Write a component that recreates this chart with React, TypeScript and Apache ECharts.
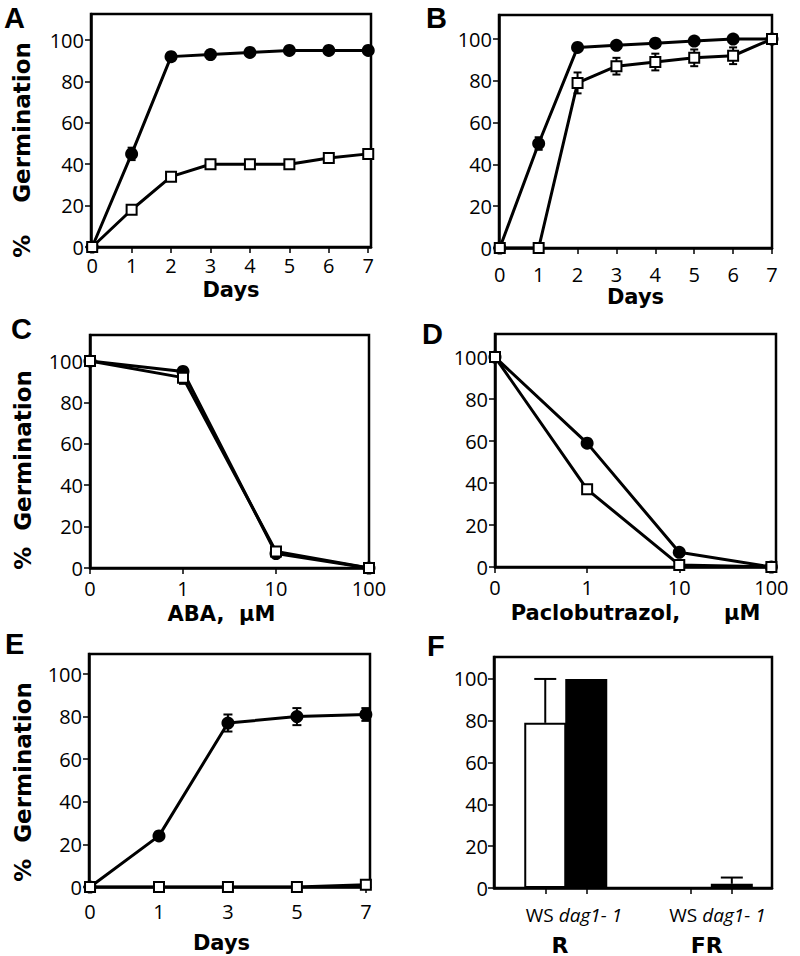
import React, { useEffect, useRef } from "react";
import * as echarts from "echarts";

// ---------- data ----------
const daysAB = [0, 1, 2, 3, 4, 5, 6, 7];
const aFilled = [0, 45, 92, 93, 94, 95, 95, 95];
const aFilledErr = [0, 3, 1, 2, 0, 0, 0, 0];
const aOpen = [0, 18, 34, 40, 40, 40, 43, 45];
const bFilled = [0, 50, 96, 97, 98, 99, 100, 100];
const bFilledErr = [0, 3, 0, 0, 0, 0, 0, 0];
const bOpen = [0, 0, 79, 87, 89, 91, 92, 100];
const bOpenErr = [0, 0, 5, 4, 4, 4, 4, 0];
const doseLabels = ["0", "1", "10", "100"];
const cFilled = [100, 95, 7, 0];
const cOpen = [100, 92, 8, 0];
const cOpenErr = [0, 3, 2, 0];
const dFilled = [100, 59, 7, 0];
const dOpen = [100, 37, 1, 0];
const eDays = ["0", "1", "3", "5", "7"];
const eFilled = [0, 24, 77, 80, 81];
const eFilledErr = [0, 1, 4, 4, 3];
const eOpen = [0, 0, 0, 0, 1];
const fGenotypes = ["WS", "dag1- 1", "WS", "dag1- 1"];
const fLight = ["R", "FR"];
const fValues = [79, 100, 0, 2];
const fErrUp = [21, 0, 0, 3];
const yTicks = [0, 20, 40, 60, 80, 100];

// ---------- layout ----------
const REG = "'Open Sans', sans-serif";
const BOLD = "'DejaVu Sans', sans-serif";
const grids = [
  { left: 91, top: 14, width: 280, height: 233 },
  { left: 499, top: 15, width: 273, height: 233 },
  { left: 90, top: 335, width: 279, height: 233 },
  { left: 495, top: 334, width: 281, height: 233 },
  { left: 89, top: 654, width: 281, height: 233 },
  { left: 494, top: 657, width: 278, height: 231 },
];
const yMaxes = [112.6, 111.5, 112.6, 111, 109.4, 110.5];
const yLabelMargins = [7, 7, 7, 7, 7, 6];
const fBarPos = [1.25, 2.25, 4.8, 5.8];
const fGenoLabelPos = [1.95, 5.45];
const fLightPos = [1.61, 5.19];

function buildOption(): any {
  const grid = grids.map((g) => ({
    ...g,
    show: true,
    borderColor: "#000",
    borderWidth: 2.5,
    backgroundColor: "transparent",
  }));

  const axisLineStyle = { show: true, onZero: false, lineStyle: { color: "#000", width: 2.5 } };
  const tickStyle = { show: true, inside: false, length: 6, lineStyle: { color: "#000", width: 1.5 } };

  const yAxis = grids.map((_, i) => ({
    type: "value",
    gridIndex: i,
    min: 0,
    max: yMaxes[i],
    splitLine: { show: false },
    axisLine: axisLineStyle,
    axisTick: { ...tickStyle, customValues: yTicks },
    axisLabel: {
      customValues: yTicks,
      margin: yLabelMargins[i],
      fontFamily: REG,
      fontSize: 20,
      color: "#000",
    },
  }));

  const nameStyle = { fontFamily: BOLD, fontWeight: "bold", fontSize: 21, color: "#000", lineHeight: 22 };
  const labelBase = { fontFamily: REG, fontSize: 20, color: "#000", lineHeight: 20 };

  const xAxis: any[] = [
    {
      type: "value", gridIndex: 0, min: -0.03, max: 7.07,
      splitLine: { show: false }, axisLine: axisLineStyle,
      axisTick: { ...tickStyle, customValues: daysAB },
      axisLabel: { ...labelBase, customValues: daysAB, margin: 8 },
      name: "Days", nameLocation: "middle", nameGap: 32, nameTextStyle: nameStyle,
    },
    {
      type: "value", gridIndex: 1, min: -0.02, max: 7.0,
      splitLine: { show: false }, axisLine: axisLineStyle,
      axisTick: { ...tickStyle, customValues: daysAB },
      axisLabel: { ...labelBase, customValues: daysAB, margin: 16 },
      name: "Days", nameLocation: "middle", nameGap: 38, nameTextStyle: nameStyle,
    },
    {
      type: "value", gridIndex: 2, min: 0, max: 3,
      splitLine: { show: false }, axisLine: axisLineStyle,
      axisTick: { ...tickStyle, customValues: [0, 1, 2, 3] },
      axisLabel: { ...labelBase, customValues: [0, 1, 2, 3], margin: 10, formatter: (v: number) => doseLabels[Math.round(v)] },
      name: "ABA,  µM", nameLocation: "middle", nameGap: 35, nameTextStyle: { ...nameStyle, padding: [0, 16, 0, 0] },
    },
    {
      type: "value", gridIndex: 3, min: 0, max: 3.05,
      splitLine: { show: false }, axisLine: axisLineStyle,
      axisTick: { ...tickStyle, customValues: [0, 1, 2, 3] },
      axisLabel: { ...labelBase, customValues: [0, 1, 2, 3], margin: 10, formatter: (v: number) => doseLabels[Math.round(v)] },
      name: "Paclobutrazol,      µM", nameLocation: "middle", nameGap: 35, nameTextStyle: nameStyle,
    },
    {
      type: "value", gridIndex: 4, min: -0.015, max: 4.06,
      splitLine: { show: false }, axisLine: axisLineStyle,
      axisTick: { ...tickStyle, customValues: [0, 1, 2, 3, 4] },
      axisLabel: { ...labelBase, customValues: [0, 1, 2, 3, 4], margin: 14, formatter: (v: number) => eDays[Math.round(v)] },
      name: "Days", nameLocation: "middle", nameGap: 45, nameTextStyle: { ...nameStyle, padding: [0, 16, 0, 0] },
    },
    {
      type: "value", gridIndex: 5, min: 0, max: 6.78,
      splitLine: { show: false }, axisLine: axisLineStyle,
      axisTick: { ...tickStyle, customValues: fBarPos },
      axisLabel: {
        customValues: fGenoLabelPos,
        margin: 17,
        fontFamily: REG,
        fontSize: 19,
        color: "#000",
        formatter: (v: number) => {
          const k = fGenoLabelPos.indexOf(v);
          return `{n|${fGenotypes[k * 2]}} {i|${fGenotypes[k * 2 + 1]}}`;
        },
        rich: {
          n: { fontFamily: REG, fontSize: 19, color: "#000" },
          i: { fontFamily: REG, fontSize: 19, fontStyle: "italic", color: "#000" },
        },
      },
    },
    {
      type: "value", gridIndex: 5, min: 0, max: 6.78, position: "bottom",
      splitLine: { show: false }, axisLine: { show: false }, axisTick: { show: false },
      axisLabel: {
        customValues: fLightPos,
        margin: 46,
        formatter: (v: number) => fLight[fLightPos.indexOf(v)],
        fontFamily: BOLD, fontWeight: "bold", fontSize: 22, color: "#000",
      },
    },
  ];

  const filledLine = (gi: number, data: number[][]) => ({
    type: "line", xAxisIndex: gi, yAxisIndex: gi, data,
    symbol: "circle", symbolSize: 13, z: 3,
    itemStyle: { color: "#000" },
    lineStyle: { color: "#000", width: 3 },
  });
  const openLine = (gi: number, data: number[][]) => ({
    type: "line", xAxisIndex: gi, yAxisIndex: gi, data,
    symbol: "rect", symbolSize: 10, z: 4,
    itemStyle: { color: "#fff", borderColor: "#000", borderWidth: 2 },
    lineStyle: { color: "#000", width: 3 },
  });
  const errSeries = (gi: number, data: number[][], cap: number, both: boolean, width = 2) => ({
    type: "custom", xAxisIndex: gi, yAxisIndex: gi, data, z: 2,
    renderItem: (params: any, api: any) => {
      const x = api.value(0), lo = api.value(1), hi = api.value(2);
      const p1 = api.coord([x, lo]);
      const p2 = api.coord([x, hi]);
      const h = cap / 2;
      const st = { stroke: "#000", lineWidth: width };
      const children: any[] = [
        { type: "line", shape: { x1: p1[0], y1: p1[1], x2: p2[0], y2: p2[1] }, style: st },
        { type: "line", shape: { x1: p2[0] - h, y1: p2[1], x2: p2[0] + h, y2: p2[1] }, style: st },
      ];
      if (both) children.push({ type: "line", shape: { x1: p1[0] - h, y1: p1[1], x2: p1[0] + h, y2: p1[1] }, style: st });
      return { type: "group", children };
    },
  });
  const errData = (xs: number[], ys: number[], es: number[]) =>
    xs.map((x, i) => [x, ys[i] - es[i], ys[i] + es[i]]).filter((_, i) => es[i] > 0);
  const pairs = (xs: number[], ys: number[]) => xs.map((x, i) => [x, ys[i]]);
  const idx = (n: number) => Array.from({ length: n }, (_, i) => i);

  const series: any[] = [
    // A
    errSeries(0, errData(daysAB, aFilled, aFilledErr), 8, true),
    filledLine(0, pairs(daysAB, aFilled)),
    openLine(0, pairs(daysAB, aOpen)),
    // B
    errSeries(1, errData(daysAB, bFilled, bFilledErr), 8, true),
    errSeries(1, errData(daysAB, bOpen, bOpenErr), 8, true),
    filledLine(1, pairs(daysAB, bFilled)),
    openLine(1, pairs(daysAB, bOpen)),
    // C
    errSeries(2, errData(idx(4), cOpen, cOpenErr), 8, true),
    filledLine(2, pairs(idx(4), cFilled)),
    openLine(2, pairs(idx(4), cOpen)),
    // D
    filledLine(3, pairs(idx(4), dFilled)),
    openLine(3, pairs(idx(4), dOpen)),
    // E
    errSeries(4, errData(idx(5), eFilled, eFilledErr), 9, true),
    filledLine(4, pairs(idx(5), eFilled)),
    openLine(4, pairs(idx(5), eOpen)),
    // F
    {
      type: "bar", xAxisIndex: 5, yAxisIndex: 5, barWidth: 42, z: 3,
      data: fBarPos.map((x, i) => ({
        value: [x, fValues[i]],
        itemStyle: i % 2 === 0
          ? { color: "#fff", borderColor: "#000", borderWidth: 2 }
          : { color: "#000", borderColor: "#000", borderWidth: 0 },
      })),
    },
    {
      ...errSeries(5, fBarPos.map((x, i) => [x, fValues[i], fValues[i] + fErrUp[i]]).filter((_, i) => fErrUp[i] > 0), 22, false, 2),
      z: 4,
    },
  ];

  const letters = [
    { t: "A", x: 4, y: 3 },
    { t: "B", x: 426, y: 3 },
    { t: "C", x: 11, y: 314 },
    { t: "D", x: 422, y: 319 },
    { t: "E", x: 5, y: 629 },
    { t: "F", x: 427, y: 631 },
  ];
  const yNames = [
    { t: "%    Germination", x: 22, y: 150 },
    { t: "%  Germination", x: 23, y: 470 },
    { t: "%  Germination", x: 23, y: 782 },
  ];

  const graphic: any[] = [
    ...letters.map((l) => ({
      type: "text", left: l.x, top: l.y, z: 10,
      style: { text: l.t, fontFamily: "'Liberation Sans', sans-serif", fontWeight: "bold", fontSize: 29, fill: "#000" },
    })),
    ...yNames.map((n) => ({
      type: "text", x: n.x, y: n.y, rotation: Math.PI / 2, z: 10,
      style: { text: n.t, fontFamily: BOLD, fontWeight: "bold", fontSize: 23, fill: "#000", align: "center", verticalAlign: "middle" },
    })),
  ];

  return {
    animation: false,
    backgroundColor: "#fff",
    grid,
    xAxis,
    yAxis,
    series,
    graphic,
  };
}

export default function App() {
  const ref = useRef<HTMLDivElement>(null);
  useEffect(() => {
    if (!ref.current) return;
    const chart = echarts.init(ref.current, null, { renderer: "svg" });
    chart.setOption(buildOption());
    return () => chart.dispose();
  }, []);
  return (
    <div
      ref={ref}
      style={{ position: "absolute", left: 0, top: 0, width: 800, height: 956, background: "#fff" }}
    />
  );
}
